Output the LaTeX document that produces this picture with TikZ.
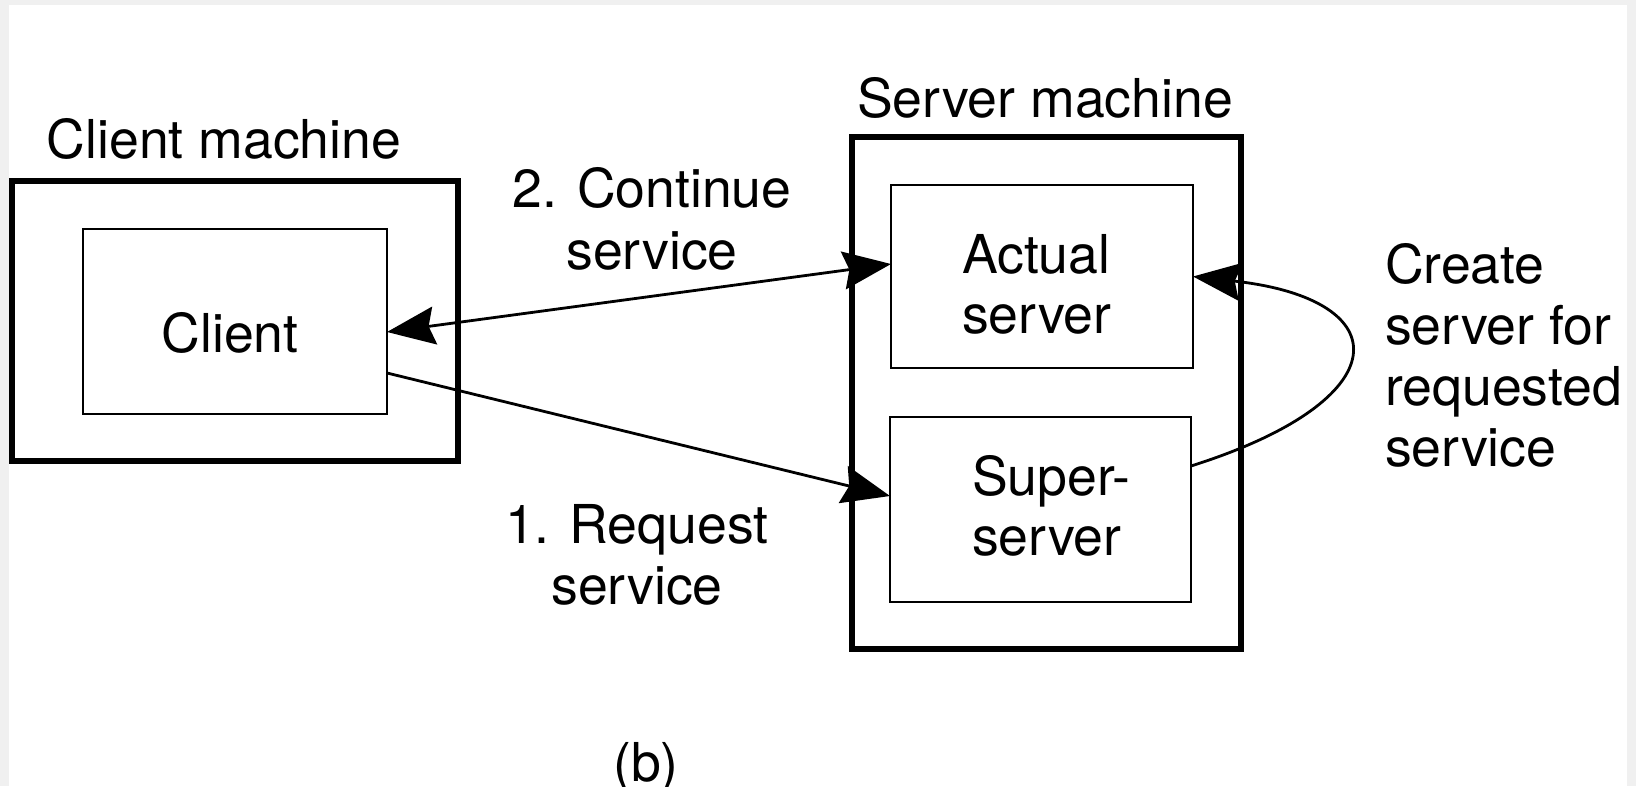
\documentclass[tikz,border=0pt]{standalone}
\usepackage{fontspec}
\setmainfont{TeX Gyre Heros}
\usetikzlibrary{arrows.meta,calc}
\definecolor{bggray}{HTML}{F0F0F0}
\begin{document}
\begin{tikzpicture}[x=0.5pt,y=-0.5pt,
  outerbox/.style={draw, line width=3.2pt, inner sep=0pt, outer sep=0pt},
  innerbox/.style={draw, line width=1.3pt, inner sep=0pt, outer sep=0pt},
  lbl/.style={inner sep=0pt, outer sep=0pt, font=\fontsize{26.8pt}{#1}\selectfont},
  lbl/.default=32pt,
  conn/.style={line width=1.4pt},
  >={Stealth[length=24pt,width=19pt,inset=3pt]}]
\useasboundingbox (0,0) rectangle (1636,786);
\fill[bggray] (0,0) rectangle (1636,786);
\fill[white] (9,5) rectangle (1627,786);

% boxes
\node[outerbox, minimum width=223pt, minimum height=140pt] (cm) at (235,321) {};
\node[innerbox, minimum width=152pt, minimum height=92.5pt] (client) at (235,321.5) {};
\node[outerbox, minimum width=194.5pt, minimum height=256pt] (sm) at (1046.5,393) {};
\node[innerbox, minimum width=151pt, minimum height=91.5pt] (actual) at (1042,276.5) {};
\node[innerbox, minimum width=150.5pt, minimum height=92.5pt] (super) at (1040.5,509.5) {};

% texts
\node[lbl, anchor=base] (cmlabel) at (224,159) {Client machine};
\node[lbl, anchor=base] (smlabel) at (1045,118) {Server machine};
\node[lbl, anchor=base] (clienttxt) at ($(client.center)+(-5,30.5)$) {Client};
\node[lbl=30pt, anchor=base west] (actualtxt) at ($(actual.center)+(-80,-3.5)$)
  {\begin{tabular}[t]{@{}l@{}}Actual\\server\end{tabular}};
\node[lbl=30pt, anchor=base west] (supertxt) at ($(super.center)+(-68.5,-14.5)$)
  {\begin{tabular}[t]{@{}l@{}}Super-\\server\end{tabular}};
\node[lbl=31pt, anchor=base] (conttxt) at (652,207)
  {\begin{tabular}[t]{@{}c@{}}2. Continue\\service\end{tabular}};
\node[lbl=30.5pt, anchor=base] (reqtxt) at (637,543)
  {\begin{tabular}[t]{@{}c@{}}1. Request\\service\end{tabular}};
\node[lbl=30.5pt, anchor=base west] (createtxt) at (1385,283)
  {\begin{tabular}[t]{@{}l@{}}Create\\server for\\requested\\service\end{tabular}};
\node[lbl, anchor=base] (caption) at (646,781) {(b)};

% connectors
\draw[conn, <->] ($(client.east)+(0,10.5)$) -- ($(actual.west)+(0,-12.5)$);
\draw[conn, ->] ($(client.east)+(0,51.5)$) -- ($(super.west)+(0,-13.5)$);
\draw[conn, ->] ($(super.east)+(0,-43.5)$) .. controls +(209,-66) and +(207,23) .. (actual.east);
\end{tikzpicture}
\end{document}
